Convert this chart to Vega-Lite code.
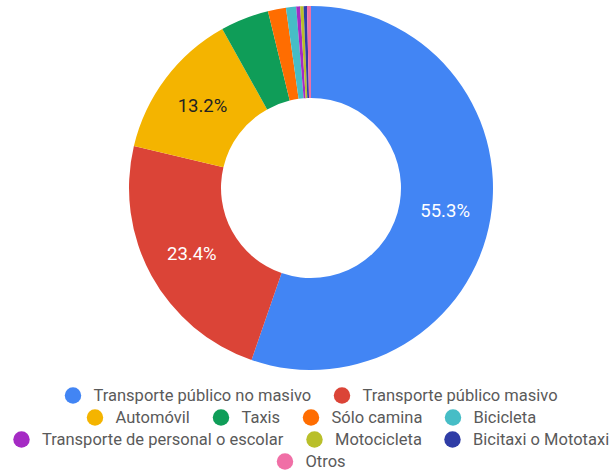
{
  "$schema": "https://vega.github.io/schema/vega-lite/v6.json",
  "background": "white",
  "autosize": {"type": "none"},
  "padding": {"left": 11, "top": 0, "right": 0, "bottom": 96},
  "width": 600,
  "height": 376,
  "data": {
    "values": [
      {"modo": "Transporte público no masivo", "pct": 55.3, "orden": 1, "label": "55.3%"},
      {"modo": "Transporte público masivo", "pct": 23.4, "orden": 2, "label": "23.4%"},
      {"modo": "Automóvil", "pct": 13.2, "orden": 3, "label": "13.2%"},
      {"modo": "Taxis", "pct": 4.3, "orden": 4, "label": ""},
      {"modo": "Sólo camina", "pct": 1.6, "orden": 5, "label": ""},
      {"modo": "Bicicleta", "pct": 0.9, "orden": 6, "label": ""},
      {"modo": "Transporte de personal o escolar", "pct": 0.35, "orden": 7, "label": ""},
      {"modo": "Motocicleta", "pct": 0.3, "orden": 8, "label": ""},
      {"modo": "Bicitaxi o Mototaxi", "pct": 0.3, "orden": 9, "label": ""},
      {"modo": "Otros", "pct": 0.35, "orden": 10, "label": ""}
    ]
  },
  "layer": [
    {
      "mark": {"type": "arc", "innerRadius": 90, "outerRadius": 182},
      "encoding": {
        "theta": {"field": "pct", "type": "quantitative", "stack": true},
        "order": {"field": "orden", "type": "quantitative"},
        "color": {
          "field": "modo",
          "type": "nominal",
          "legend": null,
          "scale": {
            "domain": ["Transporte público no masivo", "Transporte público masivo", "Automóvil", "Taxis", "Sólo camina", "Bicicleta", "Transporte de personal o escolar", "Motocicleta", "Bicitaxi o Mototaxi", "Otros"],
            "range": ["#4285F4", "#DB4437", "#F4B400", "#0F9D58", "#FF6D01", "#46BDC6", "#A52BC4", "#B9BF2A", "#2F3DA6", "#F06FA6"]
          }
        }
      }
    },
    {
      "mark": {"type": "text", "radius": 136, "font": "Roboto", "fontSize": 18.5},
      "encoding": {
        "theta": {"field": "pct", "type": "quantitative", "stack": true},
        "order": {"field": "orden", "type": "quantitative"},
        "text": {"field": "label", "type": "nominal"},
        "color": {
          "condition": {"test": "datum.label == '13.2%'", "value": "#222222"},
          "value": "#ffffff"
        }
      }
    },
    {
      "transform": [{"filter": {"field": "modo", "oneOf": ["Transporte público no masivo", "Transporte público masivo"]}}],
      "mark": {"type": "circle", "opacity": 0},
      "encoding": {
        "color": {
          "field": "modo", "type": "nominal", "title": null,
          "scale": {"domain": ["Transporte público no masivo", "Transporte público masivo"], "range": ["#4285F4", "#DB4437"]},
          "legend": {"orient": "bottom", "direction": "horizontal"}
        }
      }
    },
    {
      "transform": [{"filter": {"field": "modo", "oneOf": ["Automóvil", "Taxis", "Sólo camina", "Bicicleta"]}}],
      "mark": {"type": "circle", "opacity": 0},
      "encoding": {
        "color": {
          "field": "modo", "type": "nominal", "title": null,
          "scale": {"domain": ["Automóvil", "Taxis", "Sólo camina", "Bicicleta"], "range": ["#F4B400", "#0F9D58", "#FF6D01", "#46BDC6"]},
          "legend": {"orient": "bottom", "direction": "horizontal"}
        }
      }
    },
    {
      "transform": [{"filter": {"field": "modo", "oneOf": ["Transporte de personal o escolar", "Motocicleta", "Bicitaxi o Mototaxi"]}}],
      "mark": {"type": "circle", "opacity": 0},
      "encoding": {
        "color": {
          "field": "modo", "type": "nominal", "title": null,
          "scale": {"domain": ["Transporte de personal o escolar", "Motocicleta", "Bicitaxi o Mototaxi"], "range": ["#A52BC4", "#B9BF2A", "#2F3DA6"]},
          "legend": {"orient": "bottom", "direction": "horizontal"}
        }
      }
    },
    {
      "transform": [{"filter": {"field": "modo", "oneOf": ["Otros"]}}],
      "mark": {"type": "circle", "opacity": 0},
      "encoding": {
        "color": {
          "field": "modo", "type": "nominal", "title": null,
          "scale": {"domain": ["Otros"], "range": ["#F06FA6"]},
          "legend": {"orient": "bottom", "direction": "horizontal"}
        }
      }
    }
  ],
  "resolve": {"scale": {"color": "independent"}, "legend": {"color": "independent"}},
  "config": {
    "view": {"stroke": null},
    "legend": {
      "offset": 11,
      "symbolType": "circle",
      "symbolSize": 270,
      "symbolOpacity": 1,
      "symbolStrokeWidth": 0,
      "labelFont": "Roboto",
      "labelFontSize": 16.5,
      "labelColor": "#5a5a5a",
      "labelOffset": 12,
      "labelLimit": 400,
      "columnPadding": 22,
      "layout": {
        "bottom": {"direction": "vertical", "anchor": "middle", "center": true, "margin": 5}
      }
    }
  }
}
